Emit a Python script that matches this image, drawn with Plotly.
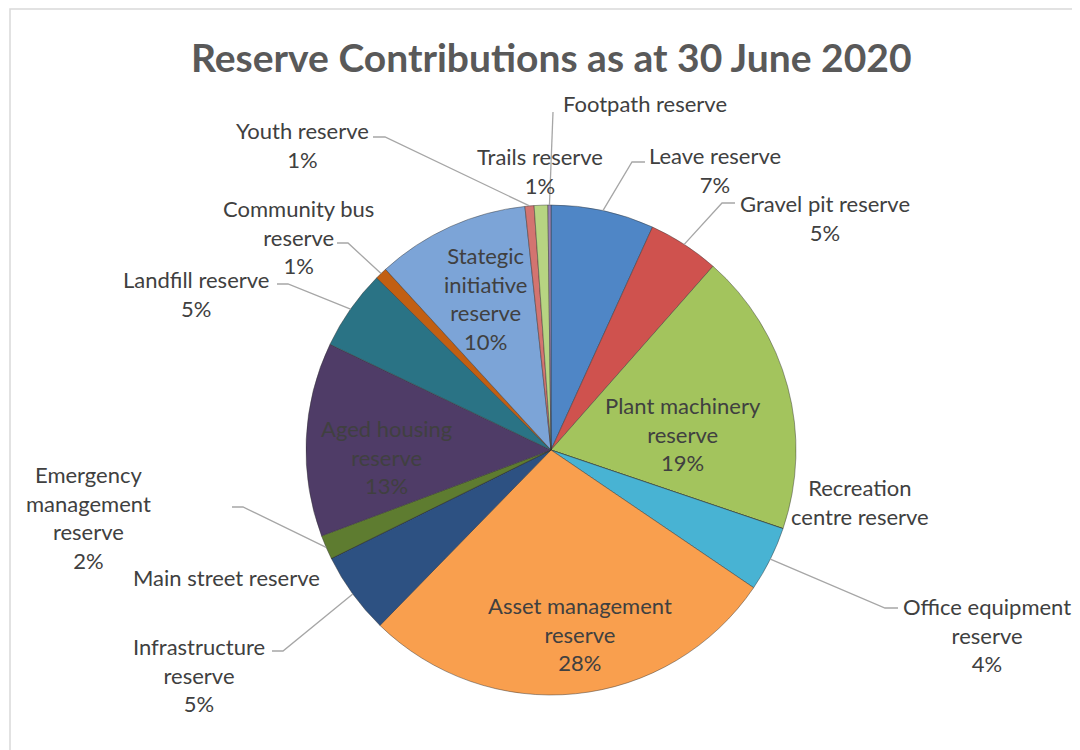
import math
import plotly.graph_objects as go

# ---------------- data ----------------
categories = [
    "Leave reserve", "Gravel pit reserve", "Plant machinery reserve",
    "Recreation centre reserve", "Office equipment reserve",
    "Asset management reserve", "Infrastructure reserve", "Main street reserve",
    "Emergency management reserve", "Aged housing reserve", "Landfill reserve",
    "Community bus reserve", "Stategic initiative reserve", "Youth reserve",
    "Trails reserve", "Footpath reserve",
]
shares = [6.8, 4.7, 18.7, 0.0, 4.3, 27.8, 5.4, 0.0, 1.6, 12.8, 5.3, 0.8, 10.1, 0.6, 0.9, 0.2]
title_text = "Reserve Contributions as at 30 June 2020"

# ---------------- styles ----------------
colors = ["#4F86C6", "#CF524E", "#A3C45D", "#8064A2", "#48B3D3", "#F99F4E",
          "#2D5182", "#772C2A", "#5E7C30", "#4F3C67", "#2A7385", "#C25F12",
          "#7CA4D7", "#D37470", "#B7D482", "#9983B5"]

wrapped = {
    "Leave reserve": "Leave reserve",
    "Gravel pit reserve": "Gravel pit reserve",
    "Plant machinery reserve": "Plant machinery<br>reserve",
    "Recreation centre reserve": "Recreation<br>centre reserve",
    "Office equipment reserve": "Office equipment<br>reserve",
    "Asset management reserve": "Asset management<br>reserve",
    "Infrastructure reserve": "Infrastructure<br>reserve",
    "Main street reserve": "Main street reserve",
    "Emergency management reserve": "Emergency<br>management<br>reserve",
    "Aged housing reserve": "Aged housing<br>reserve",
    "Landfill reserve": "Landfill reserve",
    "Community bus reserve": "Community bus<br>reserve",
    "Stategic initiative reserve": "Stategic<br>initiative<br>reserve",
    "Youth reserve": "Youth reserve",
    "Trails reserve": "Trails reserve",
    "Footpath reserve": "Footpath reserve",
}

# label centre placement (pixels, page coords) -- layout config
label_xy = {
    "Leave reserve": (715, 170), "Gravel pit reserve": (825, 218),
    "Plant machinery reserve": (683, 434), "Recreation centre reserve": (860, 502),
    "Office equipment reserve": (987, 635), "Asset management reserve": (580, 634),
    "Infrastructure reserve": (199, 675), "Main street reserve": (226, 577),
    "Emergency management reserve": (88, 517), "Aged housing reserve": (386, 457),
    "Landfill reserve": (196, 294), "Community bus reserve": (298, 237),
    "Stategic initiative reserve": (485, 298), "Youth reserve": (302, 145),
    "Trails reserve": (540, 171), "Footpath reserve": (645, 103),
}
# leader hook points (pixels): (hook_x, hook_y, horizontal length toward pie)
leader_hook = {
    "Leave reserve": (645, 162, -13), "Gravel pit reserve": (735, 203, -13),
    "Office equipment reserve": (898, 608, -13),
    "Infrastructure reserve": (272, 651, 11),
    "Emergency management reserve": (232, 507, 11),
    "Landfill reserve": (277, 284, 11), "Community bus reserve": (337, 243, 11),
    "Youth reserve": (373, 137, 12), "Footpath reserve": (553, 112, 0),
}

W, H = 1080, 750
OFF = 8  # page margin around the figure
CX, CY, R = 551, 450, 245
TEXT = "#404040"
FONT = "Lato, Open Sans, sans-serif"

def px2paper(x, y):
    return (x - OFF) / W, 1 - (y - OFF) / H

total = sum(shares)
dx0, dy1 = px2paper(CX - R, CY - R)
dx1, dy0 = px2paper(CX + R, CY + R)
fig = go.Figure(go.Pie(
    labels=categories, values=shares, sort=False, direction="clockwise",
    rotation=0, textinfo="none", hoverinfo="label+percent",
    marker=dict(colors=colors, line=dict(color="rgba(50,50,50,0.45)", width=1)),
    domain=dict(x=[dx0, dx1], y=[dy0, dy1]),
    showlegend=False,
))

annotations = []
shapes = []
cum = 0.0
for name, v in zip(categories, shares):
    mid = (cum + v / 2) / total * 2 * math.pi
    cum += v
    pct = round(v / total * 100)
    txt = wrapped[name] + (f"<br>{pct}%" if pct >= 1 else "")
    lx, ly = label_xy[name]
    ax, ay = px2paper(lx, ly)
    annotations.append(dict(x=ax, y=ay, xref="paper", yref="paper", text=txt,
                            showarrow=False, xanchor="center", yanchor="middle",
                            align="center", font=dict(family=FONT, size=22, color=TEXT)))
    if name in leader_hook:
        hx, hy, hl = leader_hook[name]
        sx = CX + R * math.sin(mid)
        sy = CY - R * math.cos(mid)
        ex, ey = hx + hl, hy
        pts = [px2paper(sx, sy), px2paper(ex, ey), px2paper(hx, hy)]
        path = "M {:.5f} {:.5f} L {:.5f} {:.5f} L {:.5f} {:.5f}".format(
            pts[0][0], pts[0][1], pts[1][0], pts[1][1], pts[2][0], pts[2][1])
        shapes.append(dict(type="path", path=path, xref="paper", yref="paper",
                           line=dict(color="#A6A6A6", width=1.3)))

# chart-area border (top and left visible)
bx0, by1 = px2paper(10, 9)
shapes.append(dict(type="rect", xref="paper", yref="paper",
                   x0=bx0, x1=1.05, y0=-0.05, y1=by1,
                   line=dict(color="#D9D9D9", width=1.5), layer="below"))

tx, ty = px2paper(551, 57)
annotations.append(dict(x=tx, y=ty, xref="paper", yref="paper", text=f"<b>{title_text}</b>",
                        showarrow=False, xanchor="center", yanchor="middle",
                        font=dict(family=FONT, size=39, color="#595959")))

fig.update_layout(
    width=W, height=H, margin=dict(l=0, r=0, t=0, b=0),
    paper_bgcolor="white", plot_bgcolor="white",
    annotations=annotations, shapes=shapes,
)
fig.write_html("out.html")
